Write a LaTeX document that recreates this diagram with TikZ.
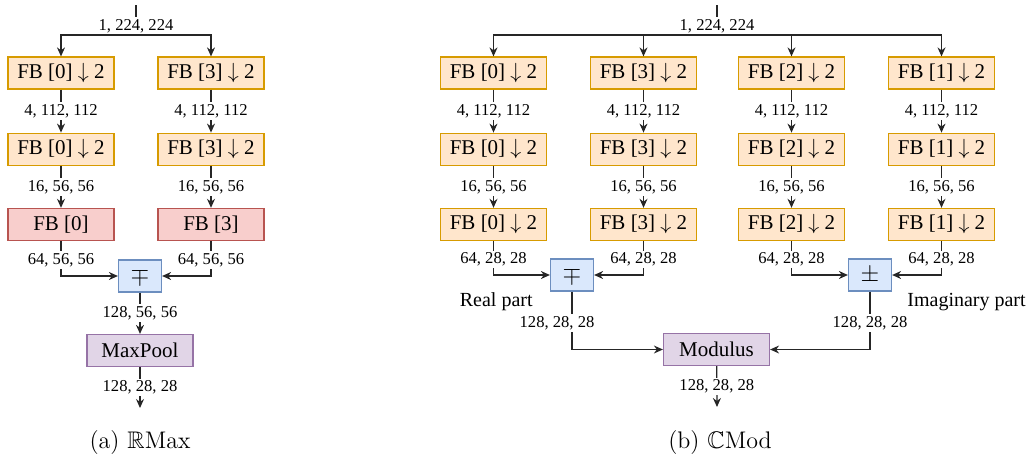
\documentclass[tikz,border=0pt]{standalone}
\usepackage{amssymb}
\usepackage{fontspec}
\newfontfamily\diagfont{Liberation Serif}
\usetikzlibrary{arrows.meta,positioning}

\definecolor{fbfill}{HTML}{FFE6CC}
\definecolor{fbdraw}{HTML}{D79B00}
\definecolor{redfill}{HTML}{F8CECC}
\definecolor{reddraw}{HTML}{B85450}
\definecolor{opfill}{HTML}{DAE8FC}
\definecolor{opdraw}{HTML}{6C8EBF}
\definecolor{poolfill}{HTML}{E1D5E7}
\definecolor{pooldraw}{HTML}{9673A6}

\begin{document}
\begin{tikzpicture}[x=0.5pt, y=-0.5pt,
  box/.style={draw, line width=0.6pt, minimum width=53pt, minimum height=16pt, inner sep=0pt,
    font=\diagfont\fontsize{10.5}{12}\selectfont},
  fb/.style={box, fill=fbfill, draw=fbdraw},
  fbred/.style={box, fill=redfill, draw=reddraw},
  op/.style={box, minimum width=21.5pt, fill=opfill, draw=opdraw, font=\fontsize{12.5}{14}\selectfont},
  pool/.style={box, fill=poolfill, draw=pooldraw},
  dims/.style={fill=white, inner sep=1pt, font=\diagfont\fontsize{8.3}{10}\selectfont},
  note/.style={inner sep=0pt, font=\diagfont\fontsize{10}{12}\selectfont},
  caption/.style={font=\normalfont\fontsize{12}{14}\selectfont},
  wire/.style={draw=black!85, line width=0.6pt},
  flow/.style={wire, -{Stealth[length=4.5pt,width=4pt]}}]
\useasboundingbox (0,0) rectangle (1027,461);

%%% (a) real max %%%

      \coordinate (ain) at (136,5);
      \coordinate (asplit) at (136,35);
      %%
      \node[fb] (a0r1) at (61,73) {FB [0] $\downarrow$ 2};
      \node[fb, below=21.5pt of a0r1] (a0r2) {FB [0] $\downarrow$ 2};
      \node[fbred, below=21pt of a0r2] (a0r3) {FB [0]};
      %
      \node[fb] (a3r1) at (211,73) {FB [3] $\downarrow$ 2};
      \node[fb, below=21.5pt of a3r1] (a3r2) {FB [3] $\downarrow$ 2};
      \node[fbred, below=21pt of a3r2] (a3r3) {FB [3]};
      %%
      \node[op] (amp) at (140,276) {$\mp$};
      \node[pool] (maxpool) at (140,350.5) {MaxPool};
      \coordinate (aout) at (140,408);
      \node[caption] (capa) at (140,443) {(a) $\mathbb{R}$Max};

      \draw[wire] (ain) -- node[dims, pos=0.7] {1, 224, 224} (asplit);
      \draw[flow] (asplit) -| (a0r1);
      \draw[flow] (asplit) -| (a3r1);
      %
      \draw[flow] (a0r1) -- node[dims] {4, 112, 112} (a0r2);
      \draw[flow] (a0r2) -- node[dims] {16, 56, 56} (a0r3);
      \draw[flow] (a3r1) -- node[dims] {4, 112, 112} (a3r2);
      \draw[flow] (a3r2) -- node[dims] {16, 56, 56} (a3r3);
      %
      \draw[flow] (a0r3) |- node[dims, pos=0.27] {64, 56, 56} (amp);
      \draw[flow] (a3r3) |- node[dims, pos=0.27] {64, 56, 56} (amp);
      \draw[flow] (amp) -- node[dims] {128, 56, 56} (maxpool);
      \draw[flow] (maxpool) -- node[dims] {128, 28, 28} (aout);

%%% (b) complex modulus %%%

      \coordinate (bin) at (717,5);
      \coordinate (bsplit) at (717,35);
      %%
      \node[fb] (b0r1) at (493.5,73) {FB [0] $\downarrow$ 2};
      \node[fb, below=21.5pt of b0r1] (b0r2) {FB [0] $\downarrow$ 2};
      \node[fb, below=21pt of b0r2] (b0r3) {FB [0] $\downarrow$ 2};
      %
      \node[fb] (b3r1) at (643.5,73) {FB [3] $\downarrow$ 2};
      \node[fb, below=21.5pt of b3r1] (b3r2) {FB [3] $\downarrow$ 2};
      \node[fb, below=21pt of b3r2] (b3r3) {FB [3] $\downarrow$ 2};
      %
      \node[fb] (b2r1) at (791.5,73) {FB [2] $\downarrow$ 2};
      \node[fb, below=21.5pt of b2r1] (b2r2) {FB [2] $\downarrow$ 2};
      \node[fb, below=21pt of b2r2] (b2r3) {FB [2] $\downarrow$ 2};
      %
      \node[fb] (b1r1) at (941.5,73) {FB [1] $\downarrow$ 2};
      \node[fb, below=21.5pt of b1r1] (b1r2) {FB [1] $\downarrow$ 2};
      \node[fb, below=21pt of b1r2] (b1r3) {FB [1] $\downarrow$ 2};
      %%
      \node[op] (bmp) at (572,275) {$\mp$};
      \node[op] (bpm) at (870,275) {$\pm$};
      \node[note, anchor=east] (realpart) at (533,302) {Real part};
      \node[note, anchor=west] (imagpart) at (907,302) {Imaginary part};
      \node[pool] (modulus) at (716.5,349.5) {Modulus};
      \coordinate (bout) at (717,407);
      \node[caption] (capb) at (720,443) {(b) $\mathbb{C}$Mod};

      \draw[wire] (bin) -- node[dims, pos=0.7] {1, 224, 224} (bsplit);
      \draw[flow] (bsplit) -| (b0r1);
      \draw[flow] (bsplit) -| (b3r1);
      \draw[flow] (bsplit) -| (b2r1);
      \draw[flow] (bsplit) -| (b1r1);
      %
      \draw[flow] (b0r1) -- node[dims] {4, 112, 112} (b0r2);
      \draw[flow] (b0r2) -- node[dims] {16, 56, 56} (b0r3);
      \draw[flow] (b3r1) -- node[dims] {4, 112, 112} (b3r2);
      \draw[flow] (b3r2) -- node[dims] {16, 56, 56} (b3r3);
      \draw[flow] (b2r1) -- node[dims] {4, 112, 112} (b2r2);
      \draw[flow] (b2r2) -- node[dims] {16, 56, 56} (b2r3);
      \draw[flow] (b1r1) -- node[dims] {4, 112, 112} (b1r2);
      \draw[flow] (b1r2) -- node[dims] {16, 56, 56} (b1r3);
      %
      \draw[flow] (b0r3) |- node[dims, pos=0.27] {64, 28, 28} (bmp);
      \draw[flow] (b3r3) |- node[dims, pos=0.27] {64, 28, 28} (bmp);
      \draw[flow] (b2r3) |- node[dims, pos=0.27] {64, 28, 28} (bpm);
      \draw[flow] (b1r3) |- node[dims, pos=0.27] {64, 28, 28} (bpm);
      %
      \draw[flow] (bmp) |- node[dims, pos=0.27, xshift=-7.5pt] {128, 28, 28} (modulus);
      \draw[flow] (bpm) |- node[dims, pos=0.27] {128, 28, 28} (modulus);
      \draw[flow] (modulus) -- node[dims] {128, 28, 28} (bout);

\end{tikzpicture}
\end{document}
